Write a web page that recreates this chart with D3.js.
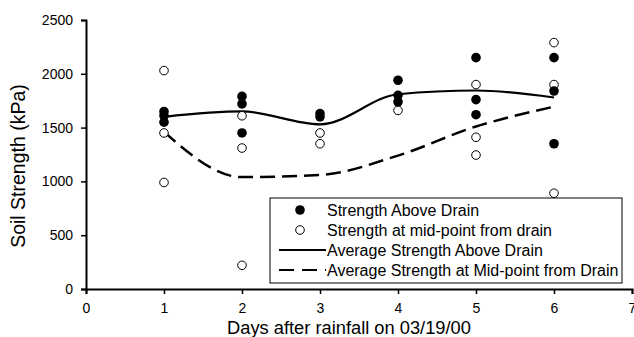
<!DOCTYPE html>
<html>
<head>
<meta charset="utf-8">
<script src="https://cdn.jsdelivr.net/npm/d3@7"></script>
<style>
  body { margin: 0; background: #fff; }
  text { font-family: "Liberation Sans", Arial, sans-serif; }
</style>
</head>
<body>
<script>
var width = 634,
    height = 337;

// individual readings, [day, kPa]
var aboveDrain = [
  [1, 1650], [1, 1610], [1, 1550],
  [2, 1790], [2, 1720], [2, 1450],
  [3, 1630], [3, 1600],
  [4, 1940], [4, 1800], [4, 1740],
  [5, 2150], [5, 1760], [5, 1620],
  [6, 2150], [6, 1840], [6, 1350]
];
var midPoint = [
  [1, 2030], [1, 1450], [1, 990],
  [2, 1610], [2, 1310], [2, 220],
  [3, 1450], [3, 1350],
  [4, 1660],
  [5, 1900], [5, 1410], [5, 1245],
  [6, 2290], [6, 1900], [6, 890]
];
// averages
var days = [1, 2, 3, 4, 5, 6];
var avgAbove = [1600, 1650, 1530, 1810, 1845, 1780];
var avgMid = [1460, 1040, 1060, 1240, 1510, 1695];

var xTicks = [0, 1, 2, 3, 4, 5, 6, 7];
var yTicks = [0, 500, 1000, 1500, 2000, 2500];

var legendItems = [
  "Strength Above Drain",
  "Strength at mid-point from drain",
  "Average Strength Above Drain",
  "Average Strength at Mid-point from Drain"
];

var svg = d3.select("body").append("svg")
    .attr("width", width)
    .attr("height", height);

var x = d3.scaleLinear().domain([0, 7]).range([86, 632]);
var y = d3.scaleLinear().domain([0, 2500]).range([289, 20]);

// axes
var xAxis = d3.axisBottom(x).tickValues(xTicks).tickSize(5).tickFormat(d3.format("d"));
var yAxis = d3.axisLeft(y).tickValues(yTicks).tickSize(5).tickFormat(d3.format("d"));

var gx = svg.append("g").attr("transform", "translate(0," + y(0) + ")").call(xAxis);
var gy = svg.append("g").attr("transform", "translate(" + x(0) + ",0)").call(yAxis);

[gx, gy].forEach(function(g) {
  g.select(".domain").attr("stroke", "#000").attr("stroke-width", 2);
  g.selectAll(".tick line").attr("stroke", "#000").attr("stroke-width", 1.5);
  g.selectAll(".tick text").attr("fill", "#000").style("font-size", "14px")
    .style("font-family", "Liberation Sans, Arial, sans-serif");
});
gx.selectAll(".tick text").attr("dy", "1.15em");
gy.selectAll(".tick text").attr("x", -13);

// titles
svg.append("text")
    .attr("transform", "translate(25,166) rotate(-90)")
    .attr("text-anchor", "middle")
    .style("font-size", "19.5px")
    .text("Soil Strength (kPa)");

svg.append("text")
    .attr("x", 349)
    .attr("y", 334)
    .attr("text-anchor", "middle")
    .style("font-size", "18.3px")
    .text("Days after rainfall on 03/19/00");

// average lines
var line = d3.line()
    .x(function(d, i) { return x(days[i]); })
    .y(function(d) { return y(d); })
    .curve(d3.curveMonotoneX);

svg.append("path")
    .datum(avgAbove)
    .attr("d", line)
    .attr("fill", "none")
    .attr("stroke", "#000")
    .attr("stroke-width", 2.2);

svg.append("path")
    .datum(avgMid)
    .attr("d", line)
    .attr("fill", "none")
    .attr("stroke", "#000")
    .attr("stroke-width", 2.5)
    .attr("stroke-dasharray", "15,7");

// points
svg.selectAll(".mid")
    .data(midPoint)
    .enter().append("circle")
    .attr("class", "mid")
    .attr("cx", function(d) { return x(d[0]); })
    .attr("cy", function(d) { return y(d[1]); })
    .attr("r", 4.3)
    .attr("fill", "#fff")
    .attr("stroke", "#000")
    .attr("stroke-width", 1);

svg.selectAll(".above")
    .data(aboveDrain)
    .enter().append("circle")
    .attr("class", "above")
    .attr("cx", function(d) { return x(d[0]); })
    .attr("cy", function(d) { return y(d[1]); })
    .attr("r", 4.8)
    .attr("fill", "#000");

// legend
var lg = svg.append("g").attr("transform", "translate(270,198)");
lg.append("rect")
    .attr("width", 352).attr("height", 85)
    .attr("fill", "#fff").attr("stroke", "#000").attr("stroke-width", 1);

legendItems.forEach(function(t, i) {
  var cy = 12 + i * 20;
  if (i === 0) {
    lg.append("circle").attr("cx", 30).attr("cy", cy).attr("r", 4.8).attr("fill", "#000");
  } else if (i === 1) {
    lg.append("circle").attr("cx", 30).attr("cy", cy).attr("r", 4.3)
      .attr("fill", "#fff").attr("stroke", "#000");
  } else {
    lg.append("line").attr("x1", 9).attr("x2", 56).attr("y1", cy).attr("y2", cy)
      .attr("stroke", "#000").attr("stroke-width", 2.2)
      .attr("stroke-dasharray", i === 3 ? "15,8" : null);
  }
  lg.append("text")
    .attr("x", 57).attr("y", cy + 5.5)
    .style("font-size", "16px")
    .text(t);
});
</script>
</body>
</html>
